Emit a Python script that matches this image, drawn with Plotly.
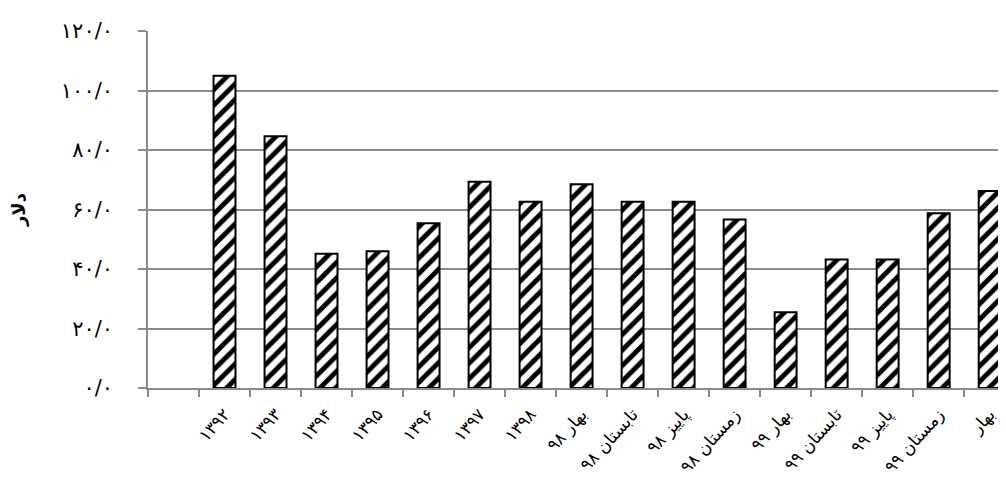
import plotly.graph_objects as go

categories = ["۱۳۹۲", "۱۳۹۳", "۱۳۹۴", "۱۳۹۵", "۱۳۹۶", "۱۳۹۷", "۱۳۹۸",
              "بهار ۹۸", "تابستان ۹۸", "پاییز ۹۸", "زمستان ۹۸",
              "بهار ۹۹", "تابستان ۹۹", "پاییز ۹۹", "زمستان ۹۹", "بهار"]
values = [105.0, 84.6, 45.1, 46.0, 55.4, 69.3, 62.6, 68.5, 62.6, 62.6, 56.6,
          25.5, 43.2, 43.2, 58.7, 66.2]
y_tickvals = [0, 20, 40, 60, 80, 100, 120]
y_ticktext = ["۰/۰", "۲۰/۰", "۴۰/۰", "۶۰/۰", "۸۰/۰", "۱۰۰/۰", "۱۲۰/۰"]
y_title = "دلار"

FONT = "DejaVu Sans"
GRID = "#8a8a8a"

fig = go.Figure()
fig.add_trace(go.Bar(
    x=categories, y=values, width=0.43,
    marker=dict(color="white",
                line=dict(color="black", width=2),
                pattern=dict(shape="/", fgcolor="black", bgcolor="white",
                             size=11, solidity=0.45, fillmode="replace")),
    showlegend=False,
))

# page body has an 8px margin, so the figure is sized/offset to compensate
fig.update_layout(
    width=998, height=475,
    margin=dict(l=140, r=0, t=23, b=95),
    paper_bgcolor="white", plot_bgcolor="white",
    font=dict(family=FONT, color="black", size=18),
    bargap=0.57,
    xaxis=dict(
        type="category", automargin=False,
        categoryorder="array", categoryarray=[" "] + categories,
        range=[-0.5, 16.32],
        tickson="boundaries", ticks="outside", ticklen=7, tickwidth=1.5,
        tickcolor=GRID, tickangle=-48,
        ticklabelstandoff=8,
        showgrid=False, showline=True, linecolor=GRID, linewidth=1.5,
        tickfont=dict(family=FONT, size=17),
    ),
    yaxis=dict(
        automargin=False,
        range=[0, 120], tickvals=y_tickvals, ticktext=y_ticktext,
        ticks="outside", ticklen=8, tickwidth=1.5, tickcolor=GRID,
        showgrid=True, gridcolor=GRID, gridwidth=1.5,
        showline=True, linecolor=GRID, linewidth=1.5,
        zeroline=False,
        ticklabelstandoff=21,
        tickfont=dict(family=FONT, size=21),
        title=dict(text="<b>" + y_title + "</b>", standoff=42,
                   font=dict(family=FONT, size=18)),
    ),
)

fig.write_html("out.html")
